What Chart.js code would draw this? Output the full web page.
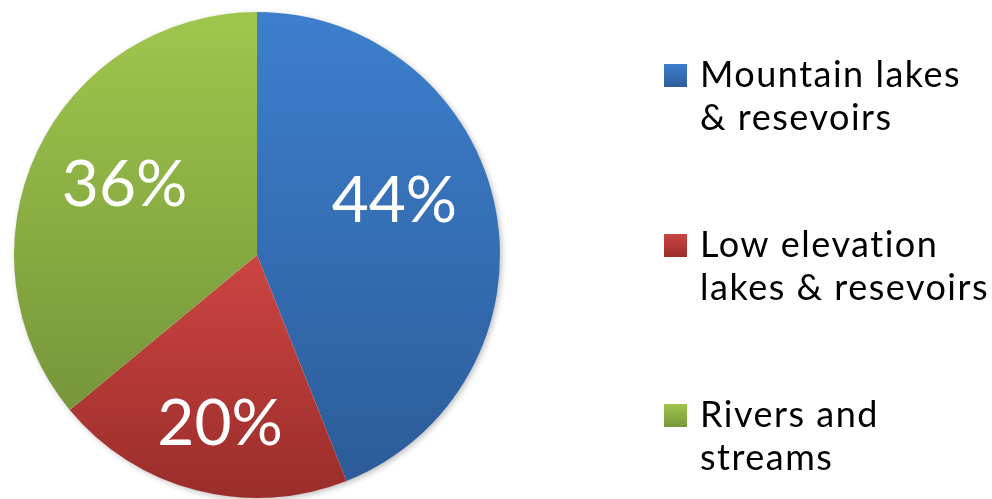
<!DOCTYPE html>
<html>
<head>
<meta charset="utf-8">
<script src="https://cdn.jsdelivr.net/npm/chart.js@4/dist/chart.umd.min.js"></script>
<style>
  html, body { margin: 0; padding: 0; background: #ffffff; }
  #wrap { width: 992px; height: 499px; }
</style>
</head>
<body>
<div id="wrap"><canvas id="chart" width="992" height="499"></canvas></div>
<script>
// Share of water bodies by type
const categories = [
  ["Mountain lakes", "& resevoirs"],
  ["Low elevation", "lakes & resevoirs"],
  ["Rivers and", "streams"]
];
const shares = [44, 20, 36];

// Slice shading: lighter at the top of each slice, darker at the bottom
const topColors = ["#3d7fcd", "#cc4542", "#9fc64c"];
const bottomColors = ["#2c5c99", "#9a2d2a", "#76963a"];

const FONT = "Lato, 'Open Sans', sans-serif";

// Label placement inside each slice: fraction of radius and angular nudge (degrees)
const labelRadius = [0.612, 0.702, 0.621];
const labelNudge = [-11.7, -1.9, 3.5];

function sliceGradient(ctx) {
  const chart = ctx.chart;
  const area = chart.chartArea;
  const i = ctx.dataIndex;
  if (!area) return topColors[i];
  const cx = (area.left + area.right) / 2;
  const cy = (area.top + area.bottom) / 2;
  const r = Math.min(area.right - area.left, area.bottom - area.top) / 2;
  const total = shares.reduce((a, b) => a + b, 0);
  let before = 0;
  for (let k = 0; k < i; k++) before += shares[k];
  const a0 = -Math.PI / 2 + (before / total) * 2 * Math.PI;
  const a1 = a0 + (shares[i] / total) * 2 * Math.PI;
  let minY = cy, maxY = cy;
  const steps = 120;
  for (let s = 0; s <= steps; s++) {
    const a = a0 + (a1 - a0) * s / steps;
    const y = cy + Math.sin(a) * r;
    minY = Math.min(minY, y);
    maxY = Math.max(maxY, y);
  }
  const g = chart.ctx.createLinearGradient(0, minY, 0, maxY);
  g.addColorStop(0, topColors[i]);
  g.addColorStop(1, bottomColors[i]);
  return g;
}

// Soft drop shadow behind the whole pie
const pieShadow = {
  id: 'pieShadow',
  beforeDatasetsDraw(chart) {
    const el = chart.getDatasetMeta(0).data[0];
    if (!el) return;
    const c = chart.ctx;
    c.save();
    c.shadowColor = 'rgba(0,0,0,0.28)';
    c.shadowBlur = 6;
    c.shadowOffsetX = 2;
    c.shadowOffsetY = 2;
    c.fillStyle = '#ffffff';
    c.beginPath();
    c.arc(el.x, el.y, el.outerRadius - 0.5, 0, Math.PI * 2);
    c.fill();
    c.restore();
  }
};

// Percentage labels drawn inside the slices
const sliceLabels = {
  id: 'sliceLabels',
  afterDatasetsDraw(chart) {
    const c = chart.ctx;
    const meta = chart.getDatasetMeta(0);
    c.save();
    c.fillStyle = '#ffffff';
    c.font = "64px " + FONT;
    c.textAlign = 'center';
    c.textBaseline = 'alphabetic';
    meta.data.forEach((el, i) => {
      const mid = (el.startAngle + el.endAngle) / 2 + labelNudge[i] * Math.PI / 180;
      const d = labelRadius[i] * el.outerRadius;
      const x = el.x + Math.cos(mid) * d;
      const y = el.y + Math.sin(mid) * d;
      const text = shares[i] + '%';
      const m = c.measureText(text);
      const h = m.actualBoundingBoxAscent;
      c.fillText(text, x, y + h / 2);
    });
    c.restore();
  }
};

// Legend on the right with wrapped category names
const sideLegend = {
  id: 'sideLegend',
  afterDraw(chart) {
    const c = chart.ctx;
    const x0 = 664, box = 23, textX = 700;
    const firstBaseline = 87, itemGap = 170, lineGap = 43;
    c.save();
    c.font = "36px " + FONT;
    if ('letterSpacing' in c) c.letterSpacing = '1.5px';
    c.fillStyle = '#000000';
    c.textAlign = 'left';
    c.textBaseline = 'alphabetic';
    categories.forEach((lines, i) => {
      const base = firstBaseline + i * itemGap;
      const g = c.createLinearGradient(0, base - box, 0, base);
      g.addColorStop(0, topColors[i]);
      g.addColorStop(1, bottomColors[i]);
      c.fillStyle = g;
      c.fillRect(x0, base - box, box, box);
      c.fillStyle = '#000000';
      lines.forEach((line, j) => c.fillText(line, textX, base + j * lineGap));
    });
    c.restore();
  }
};

new Chart(document.getElementById('chart'), {
  type: 'pie',
  data: {
    labels: categories.map(l => l.join(' ')),
    datasets: [{
      data: shares,
      backgroundColor: sliceGradient,
      borderWidth: 0
    }]
  },
  options: {
    responsive: false,
    animation: false,
    layout: { padding: { left: 14, top: 12, bottom: 1, right: 492 } },
    plugins: {
      legend: { display: false },
      tooltip: { enabled: false }
    }
  },
  plugins: [pieShadow, sliceLabels, sideLegend]
});
</script>
</body>
</html>
